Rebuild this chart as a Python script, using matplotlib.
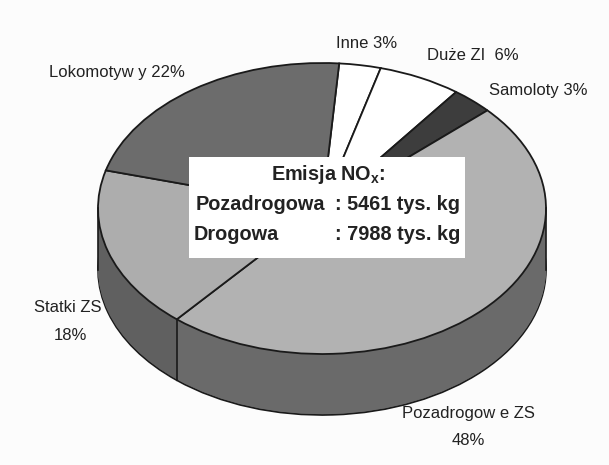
#!/usr/bin/env python3
# -*- coding: utf-8 -*-
# 3D looking pie chart of NOx emission shares

import numpy as np
import matplotlib
matplotlib.use("Agg")
import matplotlib.pyplot as plt
from matplotlib.patches import Rectangle

plt.rcParams["font.family"] = ["Liberation Sans", "DejaVu Sans"]
plt.rcParams["mathtext.fontset"] = "custom"
plt.rcParams["mathtext.bf"] = "Liberation Sans:bold"

# clockwise from the top
names = ["Inne", "Duże ZI", "Samoloty", "Pozadrogowe ZS", "Statki ZS", "Lokomotywy"]
shares = [3, 6, 3, 48, 18, 22]
top_colors = ["#ffffff", "#ffffff", "#3d3d3d", "#b2b2b2", "#adadad", "#6c6c6c"]
side_colors = ["#cccccc", "#cccccc", "#303030", "#6a6a6a", "#606060", "#585858"]

W, H = 609, 465
cx, cy = 322, 208.5
a, b = 224, 145.5
depth = 61
start = 85.6

fig = plt.figure(figsize=(W / 100, H / 100), dpi=100, facecolor="#fcfcfc")
ax = fig.add_axes([0, 0, 1, 1])


def sy(y):
    # picture y to squashed data y
    return (H - y) * a / b


def draw_pie(y, colors, edge, lw):
    ax.pie(shares, colors=colors, startangle=start, counterclock=False,
           center=(cx, sy(y)), radius=a,
           wedgeprops=dict(edgecolor=edge, linewidth=lw), frame=True)


# side wall, stacked from the bottom up
draw_pie(cy + depth, side_colors, "#1a1a1a", 1.2)
for d in range(depth - 1, 0, -1):
    draw_pie(cy + d, side_colors, "none", 0)
draw_pie(cy, top_colors, "#1a1a1a", 1.3)

ax.set_aspect("auto")
ax.set_xlim(0, W)
ax.set_ylim(0, sy(0))
ax.axis("off")

# vertical edges of the wall
ang = np.radians(start - 3.6 * np.cumsum(shares))
x_split = cx + a * np.cos(ang[3])
y_split = cy - b * np.sin(ang[3])
ax.plot([x_split, x_split], [sy(y_split), sy(y_split + depth)], color="#1a1a1a", lw=1.2)
ax.plot([cx - a, cx - a], [sy(cy), sy(cy + depth)], color="#1a1a1a", lw=1.2)
ax.plot([cx + a, cx + a], [sy(cy), sy(cy + depth)], color="#1a1a1a", lw=1.2)

# white box in the middle
ax.add_patch(Rectangle((189, sy(258)), 276, sy(157) - sy(258), facecolor="white",
                       edgecolor="none", zorder=5))

lab = dict(fontsize=12, color="#222222", ha="center", va="center", zorder=6)
ax.text(117, sy(72), "Lokomotyw y 22%", **lab)
ax.text(367, sy(44), "Inne 3%", **lab)
ax.text(473, sy(55), "Duże ZI  6%", **lab)
ax.text(538, sy(91), "Samoloty 3%", **lab)
ax.text(68, sy(308), "Statki ZS", **lab)
ax.text(70, sy(336), "18%", **lab)
ax.text(468, sy(413), "Pozadrogow e ZS", **lab)
ax.text(468, sy(440), "48%", **lab)

box = dict(fontsize=14.3, fontweight="bold", color="#222222", va="center", zorder=6)
ax.text(328, sy(175), r"Emisja NO$\mathbf{_x}$:", ha="center", **box)
ax.text(196, sy(205), "Pozadrogowa", ha="left", **box)
ax.text(335, sy(205), ": 5461 tys. kg", ha="left", **box)
ax.text(194, sy(234), "Drogowa", ha="left", **box)
ax.text(335, sy(234), ": 7988 tys. kg", ha="left", **box)

fig.savefig("out.png", dpi=100, facecolor=fig.get_facecolor())
